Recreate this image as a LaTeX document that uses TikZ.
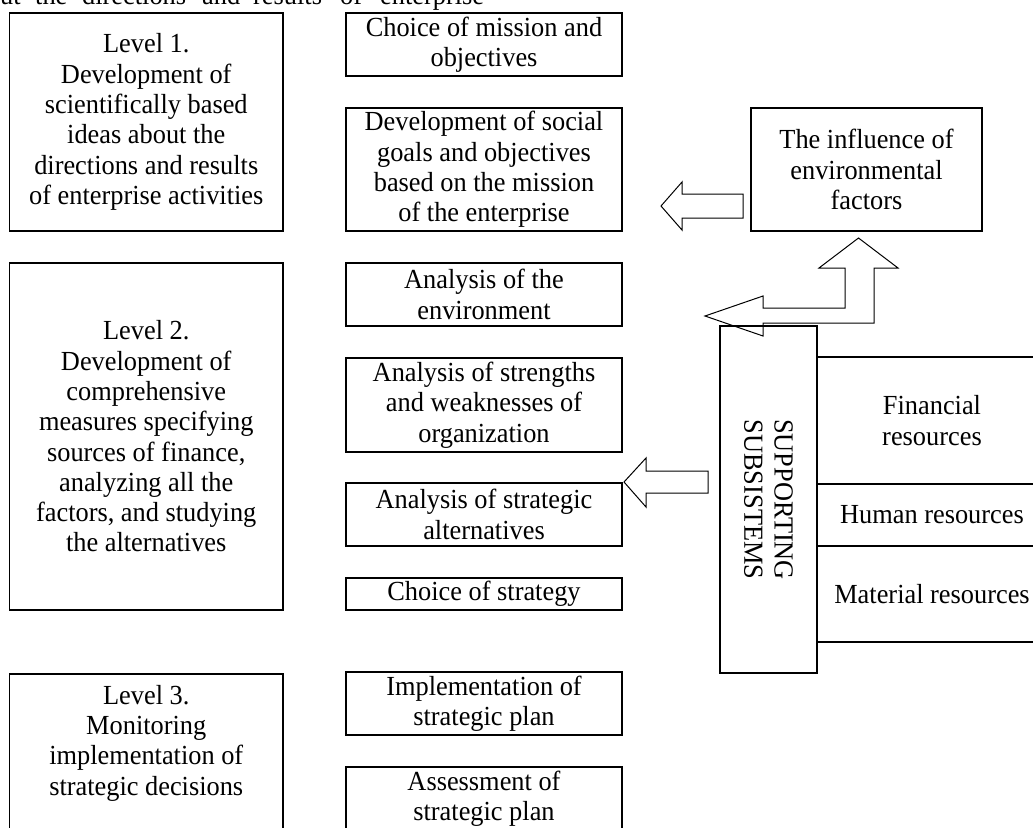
\documentclass[tikz,border=0pt]{standalone}
\usepackage{fontspec}
\setmainfont[FakeStretch=0.955]{Liberation Serif}
\newcommand\dfont{\fontsize{27.6}{30.3}\selectfont}
\begin{document}
\begin{tikzpicture}[x=1pt,y=-1pt,
  box/.style={draw, line width=1.4pt, inner sep=0pt, align=center, font=\dfont},
  txt/.style={inner sep=0pt, align=center, font=\dfont},
  blk/.style={draw, line width=1pt, line join=miter}]
\useasboundingbox (0,0) rectangle (1033,827);
\clip (0,0) rectangle (1033,827);
% cut-off line of text at the top
\foreach \w/\x in {ut/0, the/35, directions/82, and/202, results/253, of/340, enterprise/380}
  \node[txt, anchor=base west] (top\w) at (\x,5) {\w};
% block arrows (drawn first)
\draw[blk] (661,206) -- (682,182) -- (682,194) -- (743,194) -- (743,218) -- (682,218) -- (682,230) -- cycle;
\draw[blk] (624,482) -- (646,458) -- (646,471) -- (708,471) -- (708,493) -- (646,493) -- (646,507) -- cycle;
\draw[blk] (705,316) -- (763,296) -- (763,308) -- (845,308) -- (845,268) -- (819,268) -- (858.5,238)
  -- (898,268) -- (874,268) -- (874,323) -- (763,323) -- (763,336) -- cycle;
% level boxes
\node[box, minimum width=273.5pt, minimum height=218pt] (l1) at (146.25,122)
  {Level 1.\\Development of\\scientifically based\\ideas about the\\directions and results\\of enterprise activities};
\node[box, minimum width=273.5pt, minimum height=347pt] (l2) at (146.25,436.5)
  {Level 2.\\Development of\\comprehensive\\measures specifying\\sources of finance,\\analyzing all the\\factors, and studying\\the alternatives};
\node[box, minimum width=273.5pt, minimum height=200pt] (l3) at (146.25,774) {};
\node[txt] (l3t) at (146.25,743) {Level 3.\\Monitoring\\implementation of\\strategic decisions};
% middle column
\node[box, minimum width=276pt, minimum height=63pt] (m1) at (484,44.5) {Choice of mission and\\objectives};
\node[box, minimum width=276pt, minimum height=123pt] (m2) at (484,169.5) {Development of social\\goals and objectives\\based on the mission\\of the enterprise};
\node[box, minimum width=276pt, minimum height=63pt] (m3) at (484,294.5) {Analysis of the\\environment};
\node[box, minimum width=276pt, minimum height=94pt] (m4) at (484,405) {Analysis of strengths\\and weaknesses of\\organization};
\node[box, minimum width=276pt, minimum height=63pt] (m5) at (484,514.5) {Analysis of strategic\\alternatives};
\node[box, minimum width=276pt, minimum height=32pt] (m6) at (484,594) {Choice of strategy};
\node[box, minimum width=276pt, minimum height=63pt] (m7) at (484,703.5) {Implementation of\\strategic plan};
\node[box, minimum width=276pt, minimum height=63pt] (m8) at (484,798.5) {Assessment of\\strategic plan};
% right side
\node[box, minimum width=231pt, minimum height=123pt] (env) at (866.5,169.5) {The influence of\\environmental\\factors};
\node[box, minimum width=97pt, minimum height=347pt] (sup) at (768.5,499.5) {};
\node[txt, rotate=-90] (supt) at (sup.center) {SUPPORTING\\SUBSISTEMS};
\node[box, minimum width=230pt, minimum height=127pt] (fin) at (932,420.5) {Financial\\resources};
\node[box, minimum width=230pt, minimum height=62pt] (hum) at (932,515) {Human resources};
\node[box, minimum width=230pt, minimum height=96pt] (mat) at (932,594) {Material resources};
\end{tikzpicture}
\end{document}
